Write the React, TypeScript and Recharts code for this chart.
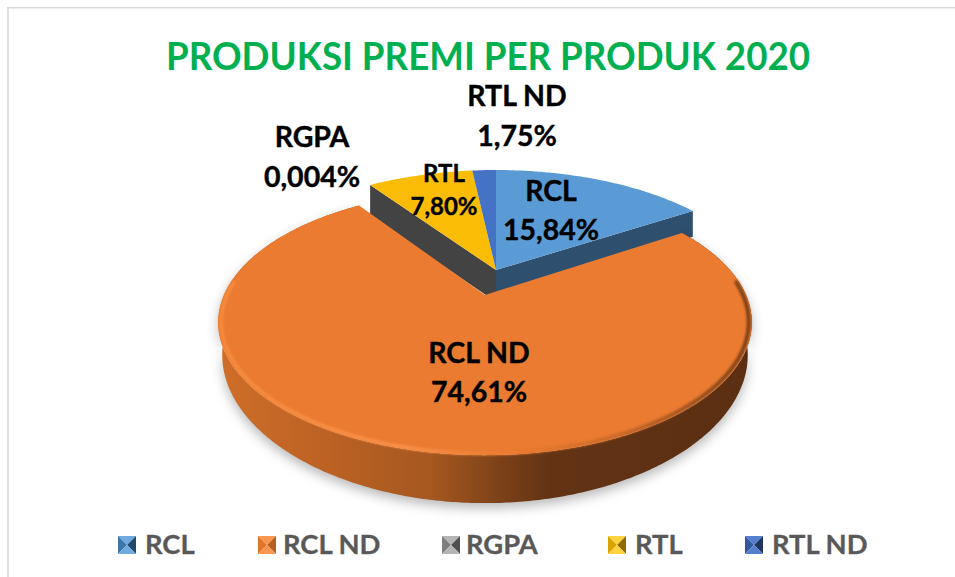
import { PieChart, Pie, Legend } from 'recharts';

const CATEGORIES = ['RCL', 'RCL ND', 'RGPA', 'RTL', 'RTL ND'];
const VALUES = [15.84, 74.61, 0.004, 7.8, 1.75];
const VALUE_LABELS = ['15,84%', '74,61%', '0,004%', '7,80%', '1,75%'];
const TOP_COLORS = ['#5B9BD5', '#EA7B30', '#A5A5A5', '#FBBC05', '#4472C4'];
const WALL_COLORS = ['#2E4F6E', 'url(#orangeWall)', '#434343', '#8f6d00', '#27406f'];
const WALL_EDGE = ['end', null, 'start', null, null];
const LEGEND_ICON_X = [118, 258, 442, 608, 745];
const LEGEND_TEXT_X = [145, 283, 466, 635, 772];
const LEGEND_DARK = ['#234A6E', '#B85F22', '#4f4f4f', '#8f6b00', '#1F3560'];
const LEGEND_MID = ['#3F76A8', '#E0752C', '#7d7d7d', '#D9A300', '#34589C'];
const LEGEND_LIGHT = ['#6FAAE0', '#F9964F', '#b5b5b5', '#FFD23F', '#5580D0'];
// label centre x, first line baseline, second line baseline, font size
const LABEL_POS = [
  [551, 201, 240, 28.5],
  [479, 363, 402, 28.5],
  [312, 147, 187, 28.5],
  [444, 182, 215, 24],
  [517, 106, 146, 28.5],
];

const chartData = CATEGORIES.map((name, i) => ({ name, value: VALUES[i], fill: TOP_COLORS[i] }));

const FONT = 'Lato, Carlito, "Open Sans", sans-serif';
const PERSPECTIVE = 0.207;
const SQUASH = 0.4866;

// everything but the big orange slice is pulled out towards the back
const sliceGeom = (i: number, cx: number, cy: number) =>
  i === 1 ? { ox: cx, oy: cy, sq: SQUASH } : { ox: cx + 11, oy: cy - 25, sq: SQUASH * 0.95 };

const rimPoint = (ox: number, oy: number, sq: number, r: number, theta: number) => {
  const X = Math.sin(theta);
  const Y = Math.cos(theta);
  const s = 1 + PERSPECTIVE * Y;
  return { x: ox + (r * X) / s, y: oy - (r * sq * Y) / s, Y };
};

const wallDepth = (Y: number) => 29.9 / (1 + 0.3766 * Y);

const lowerPoint = (p: { x: number; y: number; Y: number }, ox: number, extra = 0) => ({
  x: ox + (p.x - ox) * 0.985,
  y: p.y + wallDepth(p.Y) + extra,
});

const arcPoints = (props: any, i: number, r = props.outerRadius) => {
  const { ox, oy, sq } = sliceGeom(i, props.cx, props.cy);
  // recharts angles run counter clockwise from 3 o'clock
  const from = ((90 - props.startAngle) * Math.PI) / 180;
  const to = ((90 - props.endAngle) * Math.PI) / 180;
  const steps = Math.max(1, Math.ceil(Math.abs(to - from) / 0.01));
  const pts = [];
  for (let k = 0; k <= steps; k++) {
    pts.push(rimPoint(ox, oy, sq, r, from + ((to - from) * k) / steps));
  }
  return { pts, ox, oy };
};

const toPath = (pts: { x: number; y: number }[]) =>
  pts.map((p, k) => `${k ? 'L' : 'M'}${p.x.toFixed(1)} ${p.y.toFixed(1)}`).join(' ');

const WallShape = (props: any) => {
  const i = CATEGORIES.indexOf(props.name);
  const { pts, ox, oy } = arcPoints(props, i);
  const lower = pts.map((p) => lowerPoint(p, ox));
  const outer = toPath([...pts, ...[...lower].reverse()]) + ' Z';
  const edge = WALL_EDGE[i];
  const rim = edge === 'end' ? pts[pts.length - 1] : pts[0];
  // cut walls run on behind the orange slice, which hides their lower edge
  const low = lowerPoint(rim, rim.x, edge === 'start' ? 8 : 1);
  return (
    <g>
      {edge && (
        <path
          d={toPath([{ x: ox, y: oy }, rim, low, { x: ox, y: oy + 32 }]) + ' Z'}
          fill={WALL_COLORS[i]}
        />
      )}
      {i === 1 && (
        <path
          d={outer}
          fill={WALL_COLORS[i]}
          style={{ filter: 'drop-shadow(0px 5px 6px rgba(0,0,0,0.28))' }}
        />
      )}
    </g>
  );
};

const TopShape = (props: any) => {
  const i = CATEGORIES.indexOf(props.name);
  const { pts, ox, oy } = arcPoints(props, i);
  const inner = arcPoints(props, i, props.outerRadius - 3).pts;
  return (
    <g>
      <path d={toPath([{ x: ox, y: oy }, ...pts]) + ' Z'} fill={TOP_COLORS[i]} />
      {i === 1 && (
        <path
          d={toPath(inner.filter((p) => p.Y < 0.12))}
          fill="none"
          stroke="url(#orangeRim)"
          strokeWidth={4}
          style={{ filter: 'blur(1px)' }}
        />
      )}
    </g>
  );
};

const renderLabel = (props: any) => {
  const i = CATEGORIES.indexOf(props.name);
  const [x, y1, y2, size] = LABEL_POS[i];
  return (
    <text
      textAnchor="middle"
      fontFamily={FONT}
      fontWeight={700}
      fontSize={size}
      fill="#000"
      stroke="#000"
      strokeWidth={0.4}
    >
      <tspan x={x} y={y1}>{CATEGORIES[i]}</tspan>
      <tspan x={x} y={y2}>{VALUE_LABELS[i]}</tspan>
    </text>
  );
};

const LegendIcon = ({ i }: { i: number }) => (
  <svg width={18} height={18} style={{ position: 'absolute', left: LEGEND_ICON_X[i], top: 536 }}>
    <path d="M0 0 L18 0 L9 9 Z" fill={LEGEND_LIGHT[i]} />
    <path d="M0 0 L0 18 L9 9 Z" fill={LEGEND_MID[i]} />
    <path d="M18 0 L18 18 L9 9 Z" fill={LEGEND_DARK[i]} />
    <path d="M0 18 L18 18 L9 9 Z" fill={LEGEND_LIGHT[i]} />
  </svg>
);

const renderLegend = () => (
  <div style={{ position: 'relative', width: 955, height: 577 }}>
    {CATEGORIES.map((name, i) => (
      <div key={name}>
        <LegendIcon i={i} />
        <span
          style={{
            position: 'absolute',
            left: LEGEND_TEXT_X[i],
            top: 527,
            lineHeight: '34px',
            fontFamily: FONT,
            fontWeight: 700,
            fontSize: 27.4,
            color: '#595959',
            whiteSpace: 'nowrap',
            WebkitTextStroke: '0.3px #595959',
          }}
        >
          {name}
        </span>
      </div>
    ))}
  </div>
);

export default function App() {
  return (
    <div style={{ position: 'absolute', left: 0, top: 0, width: 955, height: 577, background: '#fff' }}>
      <PieChart width={955} height={577} margin={{ top: 0, right: 0, bottom: 0, left: 0 }}>
        <defs>
          <linearGradient id="orangeWall" gradientUnits="userSpaceOnUse" x1="217" y1="0" x2="752" y2="0">
            <stop offset="0" stopColor="#CF6E29" />
            <stop offset="0.2" stopColor="#BC6224" />
            <stop offset="0.4" stopColor="#A5581F" />
            <stop offset="0.52" stopColor="#7F4319" />
            <stop offset="0.62" stopColor="#633314" />
            <stop offset="1" stopColor="#5B2F12" />
          </linearGradient>
          <linearGradient id="orangeRim" gradientUnits="userSpaceOnUse" x1="217" y1="0" x2="752" y2="0">
            <stop offset="0" stopColor="#F58A3C" />
            <stop offset="0.35" stopColor="#F98F48" />
            <stop offset="0.55" stopColor="#EA7B30" />
            <stop offset="0.75" stopColor="#C9692A" />
            <stop offset="1" stopColor="#7A4017" />
          </linearGradient>
        </defs>
        <rect x={7} y={7} width={2} height={570} fill="#E0E0E0" />
        <rect x={7} y={7} width={948} height={1.5} fill="#DADADA" />
        <text
          x={488}
          y={70}
          textAnchor="middle"
          fontFamily={FONT}
          fontWeight={700}
          fontSize={38}
          fill="#00B050"
          textLength={644}
          lengthAdjust="spacingAndGlyphs"
        >
          PRODUKSI PREMI PER PRODUK 2020
        </text>
        <Pie
          data={chartData}
          dataKey="value"
          nameKey="name"
          cx={485}
          cy={295}
          outerRadius={261}
          startAngle={90}
          endAngle={-270}
          stroke="none"
          legendType="none"
          shape={WallShape}
          isAnimationActive={false}
        />
        <Pie
          data={chartData}
          dataKey="value"
          nameKey="name"
          cx={485}
          cy={295}
          outerRadius={261}
          startAngle={90}
          endAngle={-270}
          stroke="none"
          shape={TopShape}
          label={renderLabel}
          labelLine={false}
          isAnimationActive={false}
        />
        <Legend content={renderLegend} wrapperStyle={{ left: 0, top: 0, width: 955, height: 577 }} />
      </PieChart>
    </div>
  );
}
